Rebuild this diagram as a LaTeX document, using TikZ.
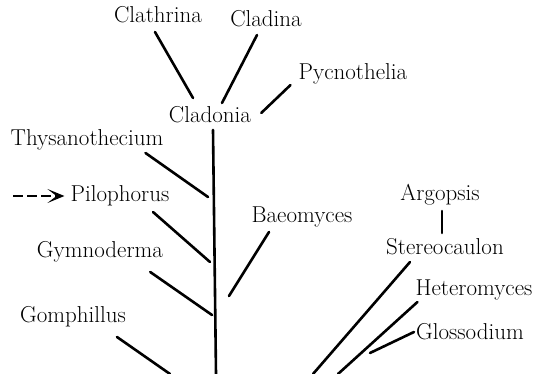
\documentclass[tikz,border=0pt]{standalone}
\usepackage{tikz}
\usetikzlibrary{arrows.meta}
\tikzset{
  taxon/.style={inner sep=0pt, anchor=base, font=\fontsize{23}{27}\selectfont},
  branch/.style={line width=2.6pt, line cap=round},
  darr/.style={-{Stealth[length=17pt,width=14pt,inset=9pt]}, line width=2.6pt, dash pattern=on 10pt off 4pt},
}
\begin{document}
\begin{tikzpicture}[x=1pt,y=-1pt]
    \useasboundingbox (0,0) rectangle (539,374);
    % taxa
    \node[taxon](clathrina) at (158,23) {Clathrina};
    \node[taxon](cladina) at (266,27) {Cladina};
    \node[taxon](pycnothelia) at (353,80) {Pycnothelia};
    \node[taxon](cladonia) at (210,123) {Cladonia};
    \node[taxon](thysanothecium) at (87,146) {Thysanothecium};
    \node[taxon](pilophorus) at (120,202) {Pilophorus};
    \node[taxon](gymnoderma) at (100,258) {Gymnoderma};
    \node[taxon](gomphillus) at (73,323) {Gomphillus};
    \node[taxon](baeomyces) at (302,223) {Baeomyces};
    \node[taxon](argopsis) at (440,201) {Argopsis};
    \node[taxon](stereocaulon) at (445,255) {Stereocaulon};
    \node[taxon](heteromyces) at (474,296) {Heteromyces};
    \node[taxon](glossodium) at (470,340) {Glossodium};
    % free ends
    \coordinate (root) at (216,374);
    \coordinate (thyend) at (208,197);
    \coordinate (pilend) at (210,262);
    \coordinate (gymend) at (212,315);
    \coordinate (gomend) at (170,374);
    \coordinate (baeend) at (229,296);
    \coordinate (steend) at (313,374);
    \coordinate (hetend) at (338,374);
    \coordinate (gloend) at (370,353);
    \coordinate (pilfrom) at (13,196);
    % branches
    \draw[branch]([xshift=-3pt,yshift=-9pt]clathrina.base)--([xshift=-17pt,yshift=25pt]cladonia.base);
    \draw[branch]([xshift=-9pt,yshift=-8pt]cladina.base)--([xshift=12pt,yshift=20pt]cladonia.base);
    \draw[branch]([xshift=-8pt,yshift=-5pt]pycnothelia.base west)--([xshift=10pt,yshift=10pt]cladonia.base east);
    \draw[branch]([xshift=3pt,yshift=-7pt]cladonia.base)--(root);
    \draw[branch]([xshift=-18pt,yshift=-7pt]thysanothecium.base east)--(thyend);
    \draw[branch]([xshift=33pt,yshift=-10pt]pilophorus.base)--(pilend);
    \draw[branch]([xshift=-13pt,yshift=-14pt]gymnoderma.base east)--(gymend);
    \draw[branch]([xshift=44pt,yshift=-14pt]gomphillus.base)--(gomend);
    \draw[branch]([xshift=-33pt,yshift=-9pt]baeomyces.base)--(baeend);
    \draw[branch]([xshift=2pt,yshift=-10pt]argopsis.base)--([xshift=-3pt,yshift=22pt]stereocaulon.base);
    \draw[branch]([xshift=24pt,yshift=-7pt]stereocaulon.base west)--(steend);
    \draw[branch]([xshift=2pt,yshift=-6pt]heteromyces.base west)--(hetend);
    \draw[branch]([xshift=-2pt,yshift=8pt]glossodium.base west)--(gloend);
    \draw[darr](pilfrom)--([xshift=-6pt,yshift=6pt]pilophorus.base west);
\end{tikzpicture}
\end{document}
